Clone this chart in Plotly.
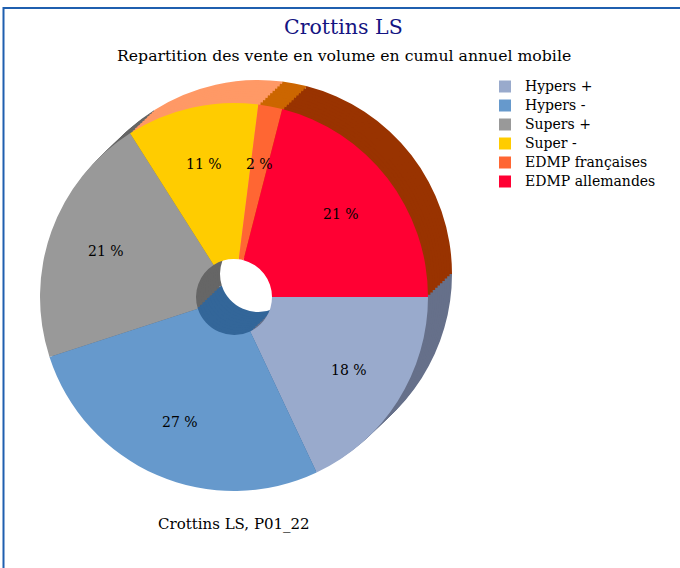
import math
import plotly.graph_objects as go

# ---- data ----
categories = ["Hypers +", "Hypers -", "Supers +", "Super -", "EDMP françaises", "EDMP allemandes"]
shares = [18, 27, 21, 11, 2, 21]
front_colors = ["#99AACC", "#6699CC", "#999999", "#FFCC00", "#FF6633", "#FF0033"]
side_colors = ["#66708A", "#336699", "#666666", "#FF9966", "#CC6600", "#993300"]

title_text = "Crottins LS"
subtitle_text = "Repartition des vente en volume en cumul annuel mobile"
caption_text = "Crottins LS, P01_22"

# ---- layout geometry (pixels) ----
W, H = 680, 568
CX, CY, R = 234, 297, 194      # front face centre / radius
DX, DY = 24, -23               # extrusion offset (towards back)
HOLE = 38 / R
STEPS = 10
LABEL_R = 0.7                  # label distance as fraction of radius
FONT = "DejaVu Serif"


def domain(cx, cy, r):
    return dict(x=[(cx - r) / W, (cx + r) / W],
                y=[(H - cy - r) / H, (H - cy + r) / H])


fig = go.Figure()

# extruded side: stacked offset pies, back first
for k in range(STEPS, 0, -1):
    t = k / STEPS
    fig.add_trace(go.Pie(
        labels=categories, values=shares, sort=False, direction="clockwise",
        rotation=90, hole=HOLE, domain=domain(CX + DX * t, CY + DY * t, R),
        marker=dict(colors=side_colors, line=dict(width=0)),
        textinfo="none", hoverinfo="skip", showlegend=False,
    ))

# legend labels displayed at 14px while legend row height follows 12px
legend_labels = [f"<span style='font-size:14px'>{c}</span>" for c in categories]

# front face
fig.add_trace(go.Pie(
    labels=legend_labels, values=shares, sort=False, direction="clockwise",
    rotation=90, hole=HOLE, domain=domain(CX, CY, R),
    marker=dict(colors=front_colors, line=dict(width=0)),
    textinfo="none", showlegend=True,
))

# percentage labels placed at the middle angle of each slice
total = sum(shares)
annotations = []
cum = 0
for v in shares:
    mid = (cum + v / 2) / total * 2 * math.pi   # clockwise from 3 o'clock
    cum += v
    px = CX + LABEL_R * R * math.cos(mid)
    py = CY + LABEL_R * R * math.sin(mid)
    annotations.append(dict(text=f"{v} %", x=px / W, y=1 - py / H,
                            xref="paper", yref="paper", showarrow=False,
                            xanchor="center", yanchor="middle",
                            font=dict(family=FONT, size=14, color="black")))

annotations += [
    dict(text=title_text, x=343 / W, y=1 - 27 / H, xref="paper", yref="paper",
         xanchor="center", yanchor="middle", showarrow=False,
         font=dict(family=FONT, size=20.5, color="#141482")),
    dict(text=subtitle_text, x=344 / W, y=1 - 55 / H, xref="paper", yref="paper",
         xanchor="center", yanchor="middle", showarrow=False,
         font=dict(family=FONT, size=15.7, color="black")),
    dict(text=caption_text, x=234 / W, y=1 - 524 / H, xref="paper", yref="paper",
         xanchor="center", yanchor="middle", showarrow=False,
         font=dict(family=FONT, size=15, color="black")),
]

fig.update_layout(
    width=W, height=H, autosize=False,
    margin=dict(l=0, r=0, t=0, b=0),
    paper_bgcolor="white", plot_bgcolor="white",
    font=dict(family=FONT, size=14, color="black"),
    showlegend=True,
    legend=dict(x=485 / W, y=1 - 72 / H, xanchor="left", yanchor="top",
                font=dict(family=FONT, size=12, color="black"),
                bgcolor="rgba(0,0,0,0)", itemclick=False),
    annotations=annotations,
    shapes=[
        dict(type="rect", xref="paper", yref="paper",
             x0=3.5 / W, x1=1.05, y0=-0.05, y1=1 - 8 / H,
             line=dict(color="#1F5FAF", width=2), fillcolor="rgba(0,0,0,0)"),
    ],
)

fig.write_html("out.html", config={"displayModeBar": False},
               post_script="document.body.style.margin='0px';")
